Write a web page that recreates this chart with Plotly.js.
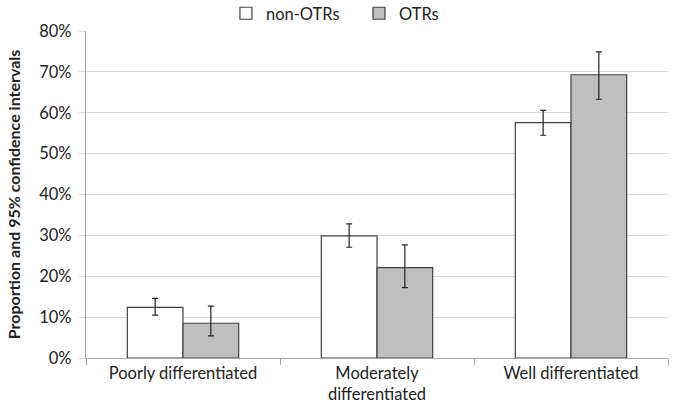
<!DOCTYPE html>
<html><head><meta charset="utf-8">
<script src="https://cdn.plot.ly/plotly-3.0.1.min.js"></script>
<style>html,body{margin:0;padding:0;background:#fff}#chart{width:675px;height:413px}</style>
</head><body><div id="chart"></div>
<script>
const categories = ["Poorly differentiated", "Moderately<br>differentiated", "Well differentiated"];
const nonOTRs = [0.124, 0.299, 0.576];
const nonOTRsHigh = [0.146, 0.328, 0.606];
const nonOTRsLow = [0.105, 0.271, 0.545];
const OTRs = [0.085, 0.221, 0.693];
const OTRsHigh = [0.127, 0.277, 0.749];
const OTRsLow = [0.054, 0.172, 0.633];

function errs(v, hi, lo) {
  return {type: 'data', symmetric: false,
    array: hi.map((h, i) => h - v[i]),
    arrayminus: v.map((x, i) => x - lo[i]),
    color: '#222', thickness: 1.2, width: 3};
}
const font = "Lato, 'Open Sans', sans-serif";
const data = [
  {type: 'bar', name: 'non-OTRs', x: categories, y: nonOTRs,
   marker: {color: '#ffffff', line: {color: '#404040', width: 1.2}},
   error_y: errs(nonOTRs, nonOTRsHigh, nonOTRsLow)},
  {type: 'bar', name: 'OTRs', x: categories, y: OTRs,
   marker: {color: '#bfbfbf', line: {color: '#404040', width: 1.2}},
   error_y: errs(OTRs, OTRsHigh, OTRsLow)}
];
const layout = {
  width: 675, height: 413,
  margin: {l: 86, r: 7, t: 31, b: 55, autoexpand: false},
  paper_bgcolor: '#fff', plot_bgcolor: '#fff',
  font: {family: font, size: 16.5, color: '#222'},
  barmode: 'group', bargap: 0.426, bargroupgap: 0,
  showlegend: true,
  legend: {orientation: 'h', x: 0.469, xanchor: 'center',
           y: 1.0, yanchor: 'bottom',
           font: {size: 16.5}, itemwidth: 30, traceorder: 'normal',
           entrywidth: 88, entrywidthmode: 'pixels'},
  xaxis: {type: 'category', showline: true, linecolor: '#a6a6a6', linewidth: 1.2,
          ticks: 'outside', tickson: 'boundaries', ticklen: 6, tickcolor: '#a6a6a6',
          showgrid: false, tickfont: {size: 16.5}},
  yaxis: {range: [0, 0.8], dtick: 0.1, tickformat: '.0%', showline: true,
          linecolor: '#a6a6a6', linewidth: 1.2, gridcolor: '#d9d9d9', gridwidth: 1,
          ticks: 'outside', ticklen: 6, tickcolor: '#d9d9d9', zeroline: false,
          tickfont: {size: 16.5}, ticklabelstandoff: 4,
          title: {text: '<b>Proportion and 95% confidence intervals</b>', font: {size: 16}, standoff: 14}}
};
Plotly.newPlot('chart', data, layout, {displayModeBar: false, staticPlot: true});
</script>
</body></html>
